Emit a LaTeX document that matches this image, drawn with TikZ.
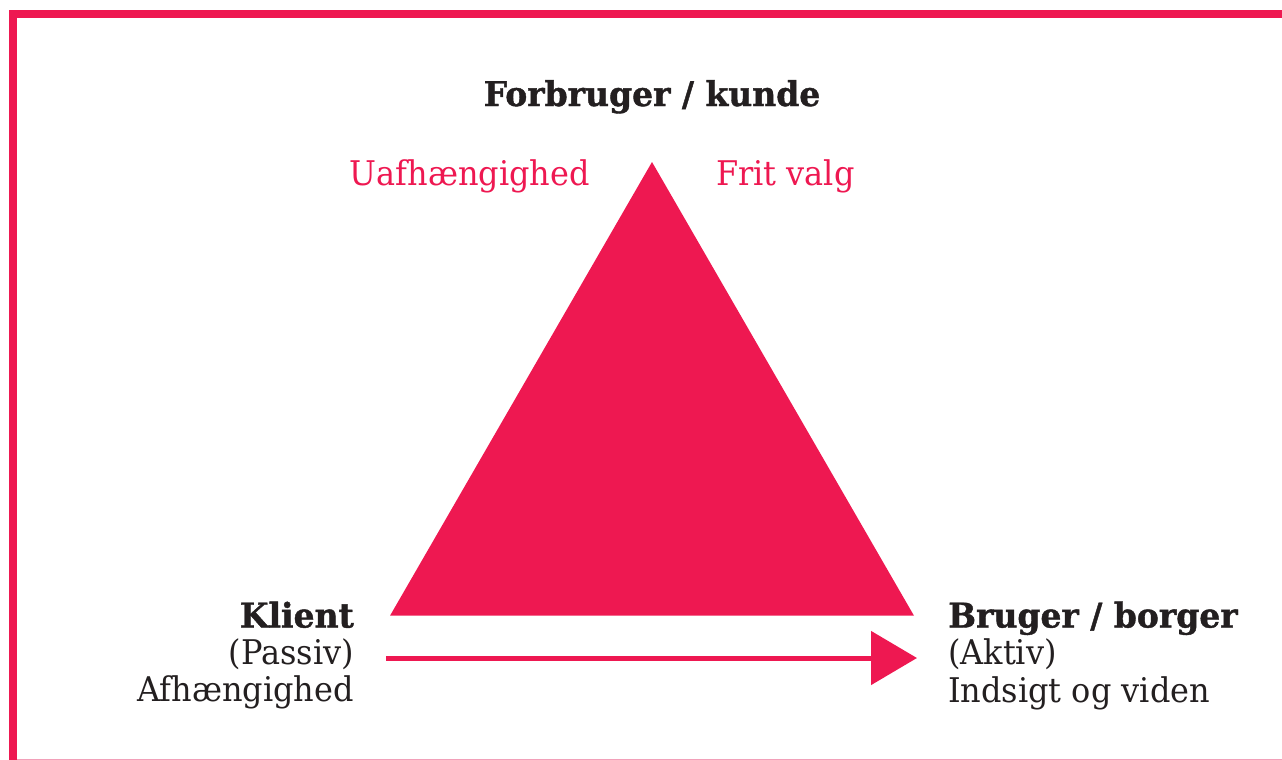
\documentclass[tikz,border=0pt]{standalone}
\usepackage{fontspec}
\setmainfont{DejaVu Serif}
\newfontfamily\slabreg[FakeStretch=0.94]{DejaVu Serif}
\newfontfamily\slabbold[FakeStretch=0.97,FakeBold=1.2]{DejaVu Serif Bold}
\usetikzlibrary{arrows.meta}
\definecolor{brandred}{RGB}{238,24,81}
\definecolor{lightred}{RGB}{242,160,185}
\definecolor{inkdark}{RGB}{35,31,32}
\tikzset{
  boldlabel/.style={font=\slabbold\fontsize{34}{37}\selectfont, text=inkdark, inner sep=0pt},
  reglabel/.style={font=\slabreg\fontsize{34}{37}\selectfont, text=inkdark, inner sep=0pt},
  redlabel/.style={font=\slabreg\fontsize{34}{37}\selectfont, text=brandred, inner sep=0pt},
  flowarrow/.style={draw=brandred, line width=5pt, -{Triangle[length=46pt,width=53pt]}, fill=brandred}
}
\begin{document}
\begin{tikzpicture}[x=1pt,y=-1pt]
\useasboundingbox (0,0) rectangle (1282,760);
% frame
\fill[brandred] (9,10) rectangle (1282,18);
\fill[brandred] (9,10) rectangle (17,760);
\fill[lightred] (17,758.6) rectangle (1282,760);
% triangle
\coordinate (apex) at (652,162);
\coordinate (bl) at (390,615.7);
\coordinate (br) at (914,615.7);
\fill[brandred] (apex) -- (br) -- (bl) -- cycle;
% texts
\node[boldlabel, anchor=base] (top) at (652,106) {Forbruger / kunde};
\node[redlabel, anchor=base east] (uaf) at (590,185) {Uafhængighed};
\node[redlabel, anchor=base west] (frit) at (716,185) {Frit valg};
\node[boldlabel, anchor=base east] (klient) at (354,627.5) {Klient};
\node[reglabel, anchor=base east] (passiv) at (354,664.5) {(Passiv)};
\node[reglabel, anchor=base east] (afh) at (354,701) {Afhængighed};
\node[boldlabel, anchor=base west] (bruger) at (948,627.5) {Bruger / borger};
\node[reglabel, anchor=base west] (aktiv) at (948,664.5) {(Aktiv)};
\node[reglabel, anchor=base west] (indsigt) at (948,702) {Indsigt og viden};
% arrow
\coordinate (arrS) at (386,658);
\coordinate (arrE) at (917,658);
\draw[flowarrow] (arrS) -- (arrE);
\end{tikzpicture}
\end{document}
